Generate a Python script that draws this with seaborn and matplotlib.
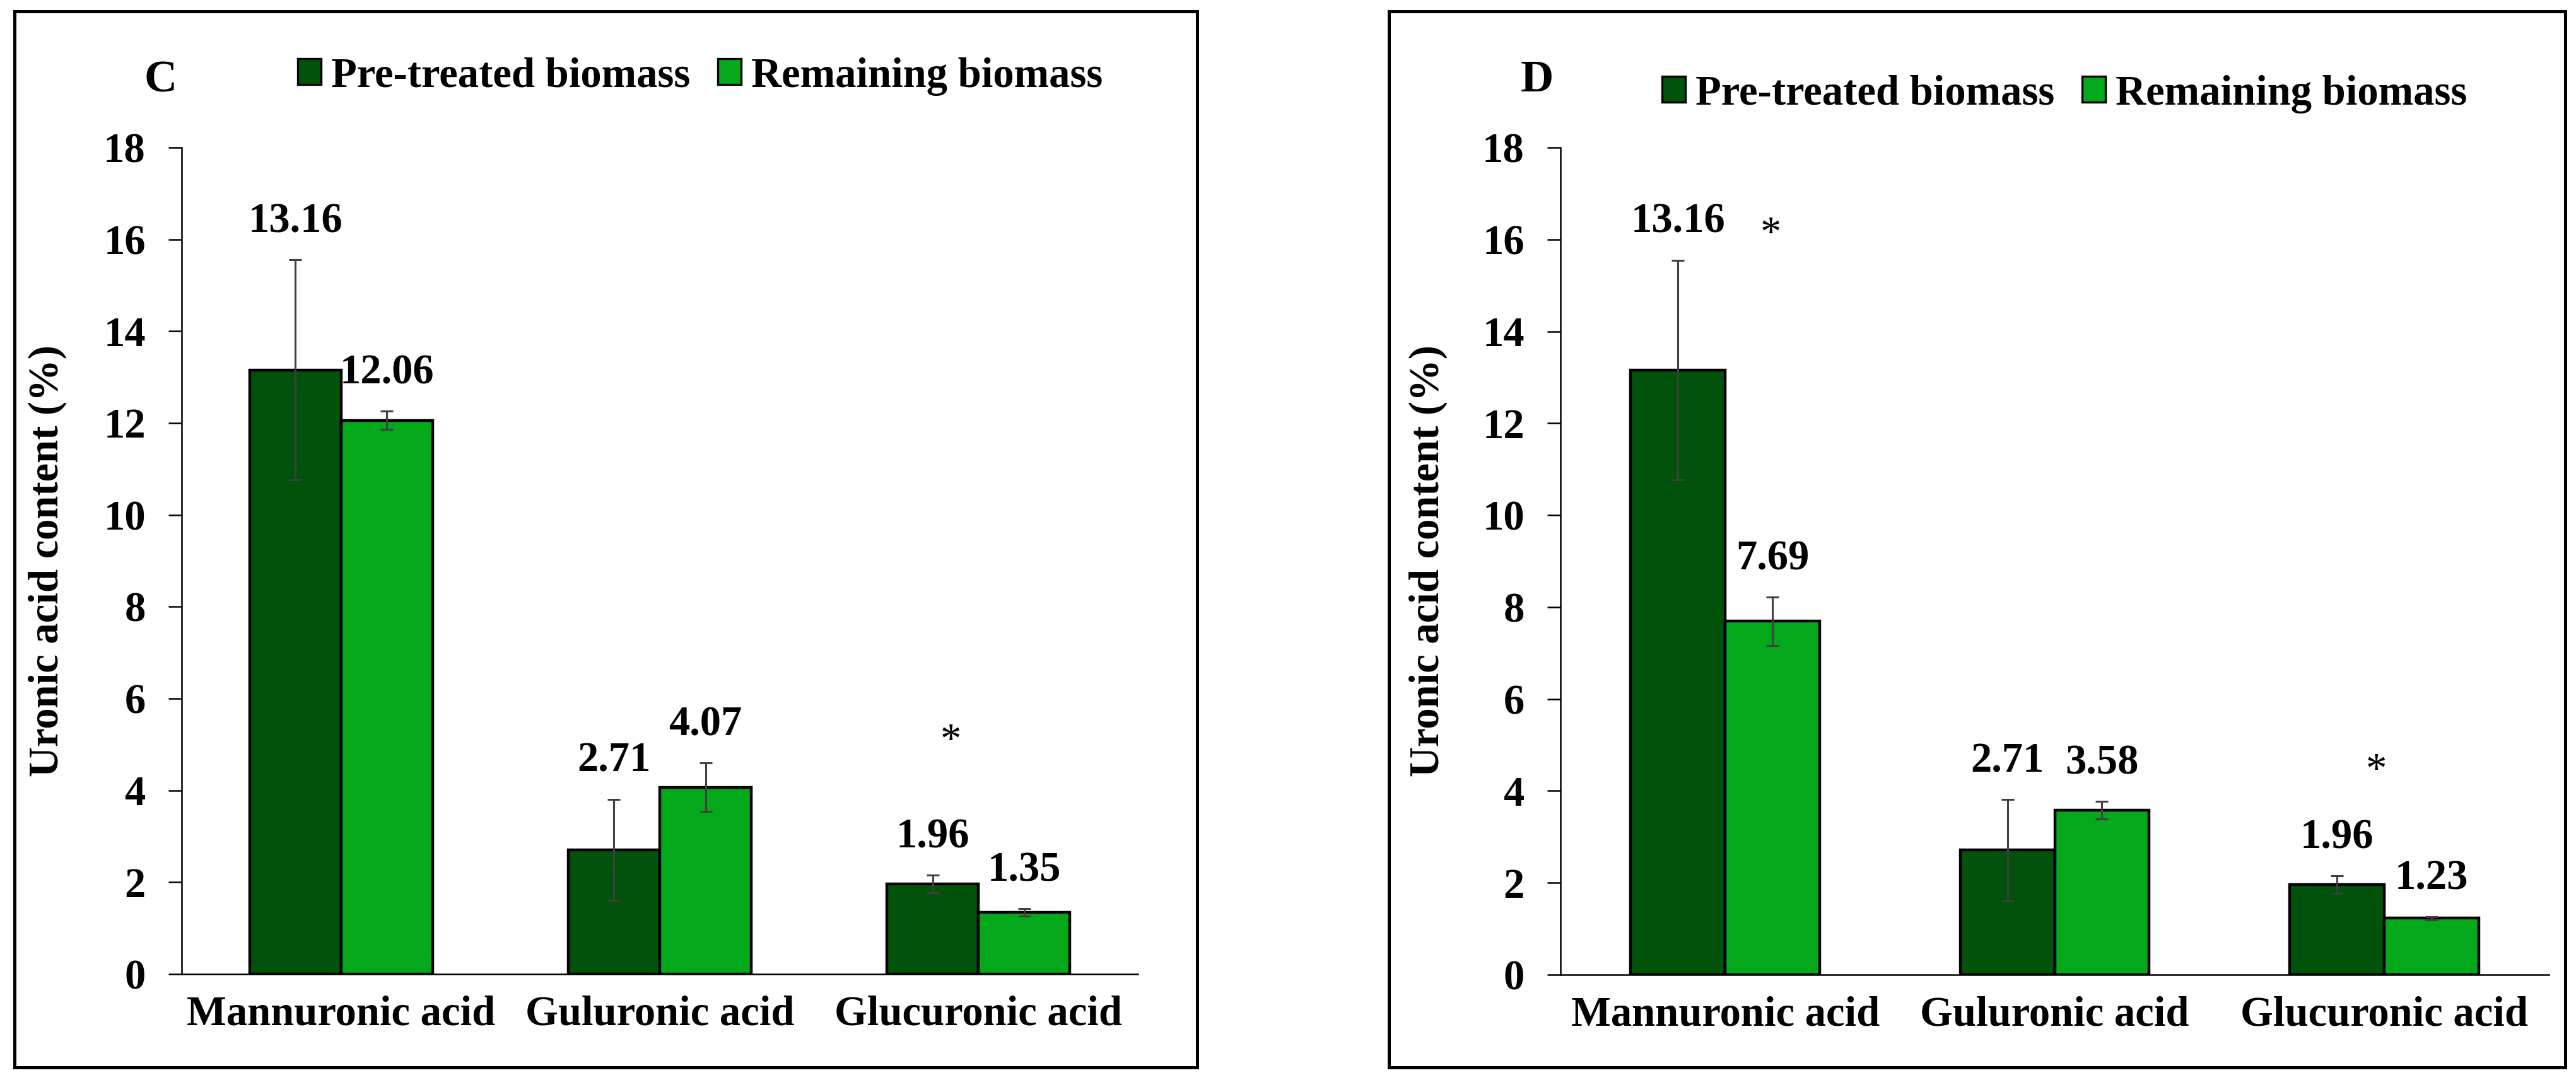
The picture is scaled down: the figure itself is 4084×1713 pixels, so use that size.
import numpy as np
import pandas as pd
import matplotlib
matplotlib.use("Agg")
import matplotlib.pyplot as plt
from matplotlib.patches import Rectangle
import seaborn as sns

# ---------------- data ----------------
categories = ["Mannuronic acid", "Guluronic acid", "Glucuronic acid"]
series = ["Pre-treated biomass", "Remaining biomass"]

C_pre = [13.16, 2.71, 1.96]
C_pre_err = [2.39, 1.10, 0.19]
C_rem = [12.06, 4.07, 1.35]
C_rem_err = [0.20, 0.53, 0.08]

D_pre = [13.16, 2.71, 1.96]
D_pre_err = [2.39, 1.10, 0.19]
D_rem = [7.69, 3.58, 1.23]
D_rem_err = [0.53, 0.19, 0.03]

yticks = [0, 2, 4, 6, 8, 10, 12, 14, 16, 18]
ylabel = "Uronic acid content (%)"

colors = ["#01520A", "#03A81B"]

# ---------------- style ----------------
sns.set_style("white")
plt.rcParams["font.family"] = ["Liberation Serif", "DejaVu Serif"]
plt.rcParams["font.weight"] = "bold"
plt.rcParams["text.color"] = "black"
plt.rcParams["axes.labelcolor"] = "black"
plt.rcParams["xtick.color"] = "black"
plt.rcParams["ytick.color"] = "black"
FS = 24

W, H = 4084, 1713
DPI = 200
fig = plt.figure(figsize=(W / DPI, H / DPI), dpi=DPI)


def px(x, y):
    return x / W, 1 - y / H


def panel(rect, pre, pre_err, rem, rem_err, letter, letter_xy, legend_xy,
          ylab_x, stars):
    ax = fig.add_axes(rect)
    df = pd.DataFrame({
        "acid": categories * 2,
        "sample": [series[0]] * 3 + [series[1]] * 3,
        "value": list(pre) + list(rem),
    })
    sns.barplot(data=df, x="acid", y="value", hue="sample", order=categories,
                hue_order=series, palette=colors, saturation=1, width=0.574,
                gap=0, edgecolor="black", linewidth=1.6, errorbar=None,
                legend=False, ax=ax)
    errs = [pre_err, rem_err]
    vals = [pre, rem]
    for cont, v, e in zip(ax.containers, vals, errs):
        xs = [p.get_x() + p.get_width() / 2 for p in cont.patches]
        ax.errorbar(xs, v, yerr=e, fmt="none", ecolor="#404040",
                    elinewidth=1.1, capsize=3.6, capthick=1.1, zorder=5)
        for x, vv, ee in zip(xs, v, e):
            ax.text(x, vv + ee + 0.6, f"{vv:.2f}", ha="center", va="baseline",
                    fontsize=FS, fontweight="bold", color="black")
    for sx, sy in stars:
        ax.text(sx, sy, "*", ha="center", va="baseline", fontsize=FS,
                fontweight="normal", color="black")

    ax.set_xlim(-0.5, 2.5)
    ax.set_ylim(0, 18)
    ax.set_yticks(yticks)
    ax.set_yticklabels([str(t) for t in yticks], fontsize=FS, fontweight="bold")
    ax.set_xticks(range(len(categories)))
    ax.set_xticklabels(categories, fontsize=FS, fontweight="bold")
    ax.set_xlabel("")
    ax.set_ylabel(ylabel, fontsize=FS, fontweight="bold", va="center",
                  color="black")
    ax.yaxis.set_label_coords(ylab_x, 0.5)
    for s in ["top", "right"]:
        ax.spines[s].set_visible(False)
    for s in ["left", "bottom"]:
        ax.spines[s].set_linewidth(0.9)
        ax.spines[s].set_color("black")
    ax.tick_params(axis="y", direction="out", length=7.6, width=0.9,
                   pad=13, left=True, colors="black")
    ax.tick_params(axis="x", length=0, pad=12, colors="black")
    ax.grid(False)

    leg = ax.legend(handles=ax.containers, labels=series, ncol=2,
                    frameon=False, loc="center left",
                    bbox_to_anchor=px(*legend_xy),
                    bbox_transform=fig.transFigure, borderpad=0,
                    handlelength=0.55, handleheight=0.57,
                    handletextpad=0.24, columnspacing=0.66,
                    labelcolor="black",
                    prop={"family": ["Liberation Serif", "DejaVu Serif"],
                          "weight": "bold", "size": FS})
    for hnd in leg.legend_handles:
        hnd.set_linewidth(1.2)
        hnd.set_edgecolor("black")

    fig.text(*px(*letter_xy), letter, ha="center", va="baseline",
             fontsize=26, fontweight="bold", color="black")
    return ax


panel([288 / W, 1 - 1545 / H, 1516 / W, 1311 / H],
      C_pre, C_pre_err, C_rem, C_rem_err,
      "C", (255, 145), (439, 121), -0.1405,
      stars=[(1.914, 4.83)])

panel([2474 / W, 1 - 1546 / H, 1567 / W, 1312 / H],
      D_pre, D_pre_err, D_rem, D_rem_err,
      "D", (2437, 145), (2602, 149), -0.134,
      stars=[(0.139, 15.88), (1.976, 4.2)])

# panel frames
for (x0, y0, x1, y1) in [(23, 18, 1898, 1693), (2202, 18, 4067, 1693)]:
    fig.patches.append(Rectangle((x0 / W, 1 - y1 / H), (x1 - x0) / W,
                                 (y1 - y0) / H, transform=fig.transFigure,
                                 fill=False, edgecolor="black", linewidth=1.8))

fig.savefig("out.png", dpi=DPI, facecolor="white")
